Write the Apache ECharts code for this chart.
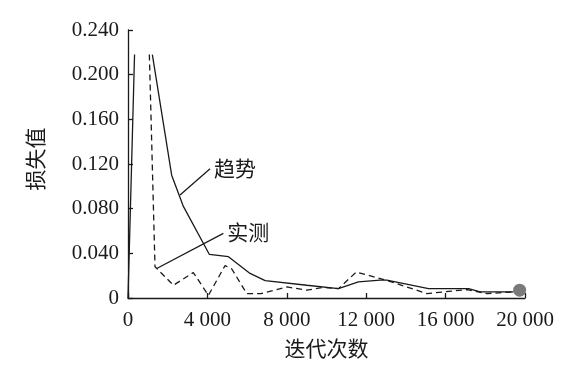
<!DOCTYPE html>
<html>
<head>
<meta charset="utf-8">
<script src="https://cdn.jsdelivr.net/npm/echarts@6/dist/echarts.min.js"></script>
<style>html,body{margin:0;padding:0;background:#fff}#c{width:580px;height:380px}</style>
</head>
<body>
<div id="c"></div>
<script>
// Data
const xTicks = [0, 4000, 8000, 12000, 16000, 20000];
const xTickLabels = ['0', '4 000', '8 000', '12 000', '16 000', '20 000'];
const yTicks = [0, 0.04, 0.08, 0.12, 0.16, 0.2, 0.24];
const yTickLabels = ['0', '0.040', '0.080', '0.120', '0.160', '0.200', '0.240'];

const trendName = '趋势';
const trendX = [0, 330, 800, 1227, 2200, 2790, 4100, 5060, 6150, 6910, 9010, 10600, 11610, 12700, 13040, 15140, 17160, 17740, 19420];
const trendY = [0, 0.218, '-', 0.218, 0.110, 0.082, 0.039, 0.037, 0.022, 0.0155, 0.0114, 0.0084, 0.0144, 0.016, 0.016, 0.0084, 0.0084, 0.0054, 0.0054];

const measName = '实测';
const measX = [1076, 1360, 2290, 3290, 4050, 4890, 5230, 5980, 6700, 8000, 9010, 9830, 10600, 11500, 12900, 15060, 17080, 18080, 19420];
const measY = [0.218, 0.028, 0.0114, 0.0228, 0.0024, 0.029, 0.026, 0.004, 0.004, 0.0099, 0.007, 0.0094, 0.0084, 0.0232, 0.0165, 0.004, 0.0075, 0.004, 0.0054];

// annotation leader lines [start, end] in data units
const trendLeader = [[2622, 0.0923], [4134, 0.1157]];
const measLeader = [[1447, 0.0264], [4804, 0.0579]];
const endPoint = [19730, 0.007];

const xName = '迭代次数';
const yName = '损失值';

const zip = (xs, ys) => xs.map((x, i) => [x, ys[i]]);
const serif = '"Liberation Serif", "Times New Roman", serif';
const cjk = '"Noto Sans CJK SC", sans-serif';
const ink = '#1a1a1a';

const leaderLabel = text => ({
  show: true, position: 'end', distance: 0, formatter: text,
  align: 'left', verticalAlign: 'middle', offset: [4, -1],
  fontFamily: cjk, fontSize: 21, color: ink
});

const chart = echarts.init(document.getElementById('c'), null, {renderer: 'canvas'});
chart.setOption({
  animation: false,
  backgroundColor: '#fff',
  grid: {left: 128, right: 55, top: 30, bottom: 82, containLabel: false},
  xAxis: {
    type: 'value', min: 0, max: 20000, interval: 4000,
    name: xName, nameLocation: 'middle', nameGap: 40,
    nameTextStyle: {fontFamily: cjk, fontSize: 21, color: ink},
    axisLine: {show: true, lineStyle: {color: ink, width: 1.3}},
    axisTick: {show: true, inside: true, length: 5, lineStyle: {color: ink, width: 1.3}},
    axisLabel: {margin: 12, fontFamily: serif, fontSize: 21, color: ink,
      formatter: v => xTickLabels[xTicks.indexOf(v)] ?? ''},
    splitLine: {show: false}
  },
  yAxis: {
    type: 'value', min: 0, max: 0.24, interval: 0.04,
    name: yName, nameLocation: 'middle', nameGap: 82, nameRotate: 90,
    nameTextStyle: {fontFamily: cjk, fontSize: 21, color: ink, padding: [0, 0, 0, 10]},
    axisLine: {show: true, lineStyle: {color: ink, width: 1.3}},
    axisTick: {show: true, inside: true, length: 5, lineStyle: {color: ink, width: 1.3}},
    axisLabel: {margin: 9, fontFamily: serif, fontSize: 21, color: ink,
      formatter: v => {
        const i = yTicks.findIndex(t => Math.abs(t - v) < 1e-9);
        return i >= 0 ? yTickLabels[i] : '';
      }},
    splitLine: {show: false}
  },
  series: [
    {
      name: trendName, type: 'line', data: zip(trendX, trendY),
      showSymbol: false, symbol: 'none', connectNulls: false,
      lineStyle: {color: ink, width: 1.3, type: 'solid'},
      markLine: {
        silent: true, symbol: 'none', animation: false,
        lineStyle: {color: ink, width: 1.3, type: 'solid'},
        label: leaderLabel(trendName),
        data: [[{coord: trendLeader[0]}, {coord: trendLeader[1]}]]
      },
      markPoint: {
        silent: true, symbol: 'circle', symbolSize: 13,
        itemStyle: {color: '#7a7a7a'}, label: {show: false},
        data: [{coord: endPoint}]
      }
    },
    {
      name: measName, type: 'line', data: zip(measX, measY),
      showSymbol: false, symbol: 'none',
      lineStyle: {color: ink, width: 1.3, type: [6, 4]},
      markLine: {
        silent: true, symbol: 'none', animation: false,
        lineStyle: {color: ink, width: 1.3, type: 'solid'},
        label: leaderLabel(measName),
        data: [[{coord: measLeader[0]}, {coord: measLeader[1]}]]
      }
    }
  ]
});
</script>
</body>
</html>
